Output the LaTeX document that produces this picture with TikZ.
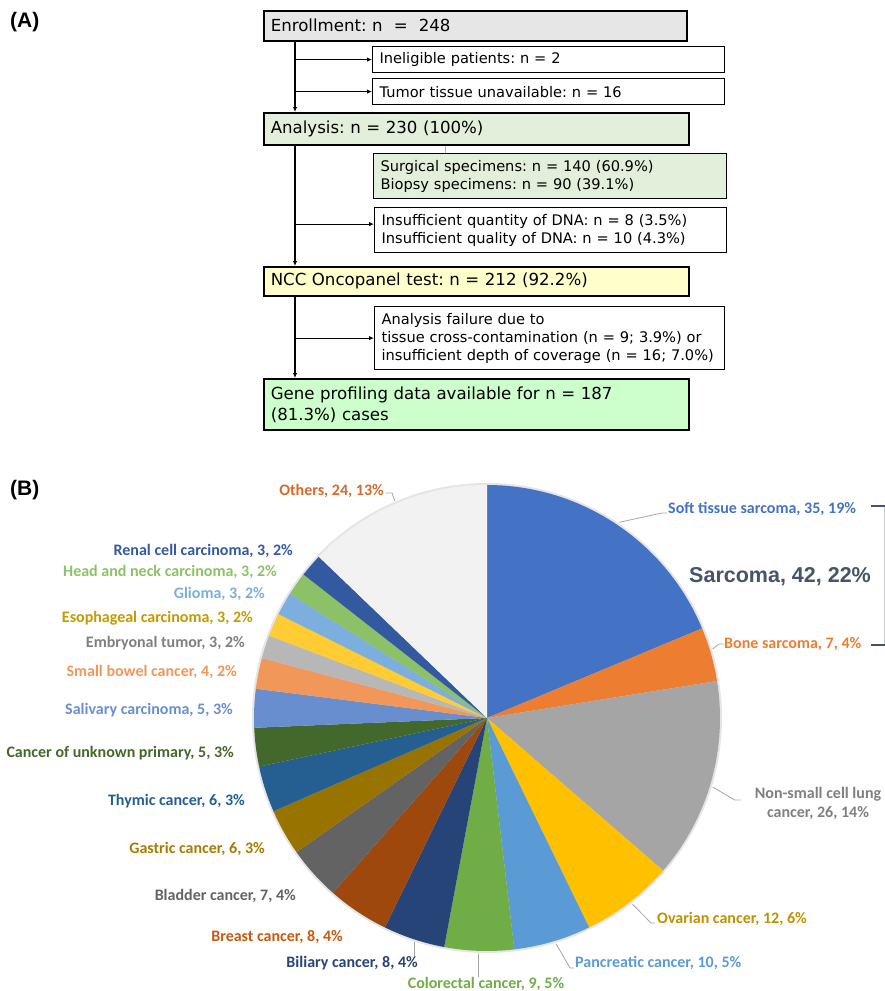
\documentclass[tikz,border=0pt]{standalone}
\usepackage{fontspec}
\setmainfont{DejaVu Sans}
\newfontfamily\piefont{Carlito}
\newfontfamily\headfont{Liberation Sans}
\usetikzlibrary{arrows.meta,calc}
\frenchspacing

\definecolor{enrollgray}{HTML}{E7E6E6}
\definecolor{analysisgreen}{HTML}{E2EFDA}
\definecolor{nccyellow}{HTML}{FFFFCC}
\definecolor{genegreen}{HTML}{CCFFCC}
\definecolor{sarcomagray}{HTML}{44546A}

\definecolor{cSoft}{HTML}{4472C4}
\definecolor{cBone}{HTML}{ED7D31}
\definecolor{cNsclc}{HTML}{A5A5A5}
\definecolor{cOvarian}{HTML}{FFC000}
\definecolor{cPancreatic}{HTML}{5B9BD5}
\definecolor{cColorectal}{HTML}{70AD47}
\definecolor{cBiliary}{HTML}{264478}
\definecolor{cBreast}{HTML}{9E480E}
\definecolor{cBladder}{HTML}{636363}
\definecolor{cGastric}{HTML}{997300}
\definecolor{cThymic}{HTML}{255E91}
\definecolor{cCup}{HTML}{43682B}
\definecolor{cSalivary}{HTML}{698ED0}
\definecolor{cSmallbowel}{HTML}{F1975A}
\definecolor{cEmbryonal}{HTML}{B7B7B7}
\definecolor{cEsophageal}{HTML}{FFCD33}
\definecolor{cGlioma}{HTML}{7CAFDD}
\definecolor{cHeadneck}{HTML}{8CC168}
\definecolor{cRenal}{HTML}{335AA1}
\definecolor{cOthers}{HTML}{F2F2F2}

\definecolor{tNsclc}{HTML}{7F7F7F}
\definecolor{tOvarian}{HTML}{BF9000}
\definecolor{tBreast}{HTML}{C55A11}
\definecolor{tGastric}{HTML}{A67C00}
\definecolor{tEsophageal}{HTML}{C49A00}
\definecolor{tOthers}{HTML}{D46B2C}

\tikzset{
  mainbox/.style={draw,line width=1.6pt,anchor=north west,inner xsep=7pt,inner ysep=0pt,align=left,font=\fontsize{16.6}{21}\selectfont},
  sidebox/.style={draw,line width=1.2pt,anchor=north west,inner xsep=7pt,inner ysep=0pt,align=left,font=\fontsize{14.6}{18}\selectfont},
  trunkline/.style={line width=1.8pt,-{Latex[length=5pt,width=4.5pt]}},
  sideline/.style={line width=1.1pt,-{Latex[length=5pt,width=4.5pt]}},
  slicelabel/.style={font=\piefont\bfseries\fontsize{16}{19}\selectfont,inner sep=0pt},
  leader/.style={draw=black!35,line width=0.8pt},
  panel/.style={font=\headfont\bfseries\fontsize{21}{25}\selectfont,inner sep=0pt}
}

\begin{document}
\begin{tikzpicture}[x=1pt,y=-1pt]
  \useasboundingbox (0,0) rectangle (885,991);

  \node[panel,anchor=west] (panelA) at (10,22) {(A)};
  \node[panel,anchor=west] (panelB) at (10,490) {(B)};

  \node[mainbox,fill=enrollgray,text width=409pt,minimum height=30pt] (enroll) at (263,10) {Enrollment: n\ \ =\ \ 248};
  \node[sidebox,text width=338pt,minimum height=26pt] (inel) at (372,46) {Ineligible patients: n = 2};
  \node[sidebox,text width=338pt,minimum height=26pt] (tumor) at (372,78) {Tumor tissue unavailable: n = 16};
  \node[mainbox,fill=analysisgreen,text width=411pt,minimum height=32pt] (analysis) at (263,112) {Analysis: n = 230 (100\%)};
  \node[sidebox,fill=analysisgreen,text width=339pt,minimum height=45pt] (surg) at (373,153) {Surgical specimens: n = 140 (60.9\%)\\Biopsy specimens: n = 90 (39.1\%)};
  \node[sidebox,text width=338pt,minimum height=45pt] (insuff) at (374,207) {Insufficient quantity of DNA: n = 8 (3.5\%)\\Insufficient quality of DNA: n = 10 (4.3\%)};
  \node[mainbox,fill=nccyellow,text width=411pt,minimum height=29pt] (ncc) at (263,266) {NCC Oncopanel test: n = 212 (92.2\%)};
  \node[sidebox,text width=336pt,minimum height=63pt] (fail) at (374,306) {Analysis failure due to\\tissue cross-contamination (n = 9; 3.9\%) or\\insufficient depth of coverage (n = 16; 7.0\%)};
  \node[mainbox,fill=genegreen,text width=411pt,minimum height=51pt] (gene) at (263,378) {Gene profiling data available for n = 187\\(81.3\%) cases};

  \coordinate (trunk) at (295,0);
  \coordinate (insuffin) at ([yshift=6pt]insuff.west);
  \draw[trunkline] (enroll.south -| trunk) -- (analysis.north -| trunk);
  \draw[sideline] (inel.west -| trunk) -- (inel.west);
  \draw[sideline] (tumor.west -| trunk) -- (tumor.west);
  \draw[trunkline] (analysis.south -| trunk) -- (ncc.north -| trunk);
  \draw[sideline] (insuffin -| trunk) -- (insuffin);
  \draw[trunkline] (ncc.south -| trunk) -- (gene.north -| trunk);
  \draw[sideline] (fail.west -| trunk) -- (fail.west);
  \draw[black!30,line width=0.6pt] ($(surg.north west)+(72,0)$) coordinate (split) -- (split |- analysis.south);

  \node[circle,minimum size=472pt,inner sep=0pt,outer sep=0pt] (pie) at (487,718) {};
  \fill[black!10] (pie.center) circle[radius=235];
  \foreach \val/\col [remember=\angend as \angstart (initially -90)] in
    {35/cSoft,7/cBone,26/cNsclc,12/cOvarian,10/cPancreatic,9/cColorectal,8/cBiliary,8/cBreast,7/cBladder,6/cGastric,
     6/cThymic,5/cCup,5/cSalivary,4/cSmallbowel,3/cEmbryonal,3/cEsophageal,3/cGlioma,3/cHeadneck,3/cRenal,24/cOthers}
  {
    \pgfmathsetmacro\angend{\angstart+\val*360/187}
    \fill[\col] (pie.center) -- ++(\angstart:233) arc[start angle=\angstart,end angle=\angend,radius=233] -- cycle;
  }

  \node[slicelabel,text=cSoft,anchor=west] (lsoft) at (668,509) {Soft tissue sarcoma, 35, 19\%};
  \node[slicelabel,text=cBone,anchor=west] (lbone) at (724,644) {Bone sarcoma, 7, 4\%};
  \node[slicelabel,text=tNsclc,align=center] (lnsclc) at (818,803) {Non-small cell lung\\cancer, 26, 14\%};
  \node[slicelabel,text=tOvarian,anchor=west] (lovarian) at (657,919) {Ovarian cancer, 12, 6\%};
  \node[slicelabel,text=cPancreatic,anchor=west] (lpancreatic) at (575,963) {Pancreatic cancer, 10, 5\%};
  \node[slicelabel,text=cColorectal] (lcolorectal) at (486,984) {Colorectal cancer, 9, 5\%};
  \node[slicelabel,text=cBiliary,anchor=east] (lbiliary) at (418,963) {Biliary cancer, 8, 4\%};
  \node[slicelabel,text=tBreast,anchor=east] (lbreast) at (343,937) {Breast cancer, 8, 4\%};
  \node[slicelabel,text=cBladder,anchor=east] (lbladder) at (296,896) {Bladder cancer, 7, 4\%};
  \node[slicelabel,text=tGastric,anchor=east] (lgastric) at (265,849) {Gastric cancer, 6, 3\%};
  \node[slicelabel,text=cThymic,anchor=east] (lthymic) at (245,801) {Thymic cancer, 6, 3\%};
  \node[slicelabel,text=cCup,anchor=east] (lcup) at (234,753) {Cancer of unknown primary, 5, 3\%};
  \node[slicelabel,text=cSalivary,anchor=east] (lsalivary) at (233,710) {Salivary carcinoma, 5, 3\%};
  \node[slicelabel,text=cSmallbowel,anchor=east] (lsmallbowel) at (237,672) {Small bowel cancer, 4, 2\%};
  \node[slicelabel,text=tNsclc,anchor=east] (lembryonal) at (245,643) {Embryonal tumor, 3, 2\%};
  \node[slicelabel,text=tEsophageal,anchor=east] (lesophageal) at (253,618) {Esophageal carcinoma, 3, 2\%};
  \node[slicelabel,text=cGlioma,anchor=east] (lglioma) at (265,594) {Glioma, 3, 2\%};
  \node[slicelabel,text=cHeadneck,anchor=east] (lheadneck) at (277,572) {Head and neck carcinoma, 3, 2\%};
  \node[slicelabel,text=cRenal,anchor=east] (lrenal) at (293,551) {Renal cell carcinoma, 3, 2\%};
  \node[slicelabel,text=tOthers,anchor=east] (lothers) at (384,491) {Others, 24, 13\%};
  \node[font=\headfont\bfseries\fontsize{21.5}{26}\selectfont,text=sarcomagray,inner sep=0pt,anchor=west] (lsarcoma) at (689,577) {Sarcoma, 42, 22\%};

  \draw[leader] (pie.113) -- ($(lothers.east)+(8,2)$) -- ($(lothers.east)+(2,2)$);
  \draw[leader] (pie.56) -- ($(lsoft.west)+(-6,4)$) -- ($(lsoft.west)+(-1,4)$);
  \draw[leader] (pie.17) -- ($(lbone.west)+(-5,0)$) -- (lbone.west);
  \draw[leader] (pie.-17) -- ($(lnsclc.west)+(-20,-3)$) -- ($(lnsclc.west)+(-14,-3)$);
  \draw[leader] (pie.-52) -- ($(lovarian.west)+(-6,4)$) -- ($(lovarian.west)+(-2,4)$);
  \draw[leader] (pie.-73) -- ($(lpancreatic.west)+(-5,5)$) -- ($(lpancreatic.west)+(-1,5)$);
  \draw[leader] (pie.-92) -- (pie.-92 |- lcolorectal.north);
  \draw[leader] (pie.-108) -- (pie.-108 |- lbiliary.north);

  \coordinate (brtop) at (871,506);
  \coordinate (brbot) at (871,645);
  \draw[black!20,line width=0.8pt] ($(brtop)+(13,0)$) -- ($(brbot)+(13,0)$);
  \draw[sarcomagray,line width=1.2pt] (brtop) -- ++(14,0);
  \draw[sarcomagray,line width=1.2pt] (brbot) -- ++(14,0);
\end{tikzpicture}
\end{document}
